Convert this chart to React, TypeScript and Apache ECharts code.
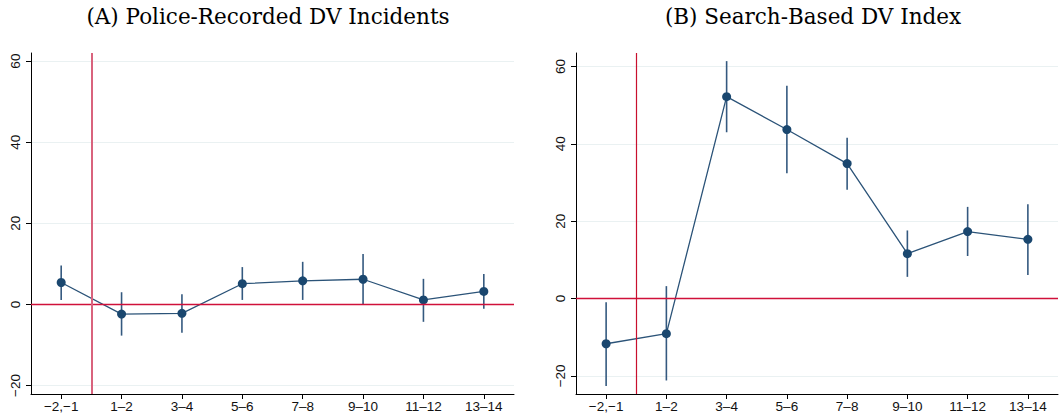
import React, { useEffect, useRef } from "react";
import * as echarts from "echarts";

const categories = ["\u22122,\u22121", "1\u20132", "3\u20134", "5\u20136", "7\u20138", "9\u201310", "11\u201312", "13\u201314"];
const yTicks = [-20, 0, 20, 40, 60];

const policeEst = [5.4, -2.4, -2.2, 5.1, 5.8, 6.2, 1.1, 3.2];
const policeHi = [9.6, 3.0, 2.5, 9.2, 10.5, 12.4, 6.3, 7.5];
const policeLo = [1.1, -7.7, -7.0, 1.1, 1.1, 0.0, -4.3, -1.1];

const searchEst = [-11.7, -9.1, 52.2, 43.7, 34.9, 11.6, 17.3, 15.3];
const searchHi = [-1.0, 3.2, 61.4, 55.0, 41.6, 17.6, 23.7, 24.4];
const searchLo = [-22.6, -21.2, 43.0, 32.4, 28.1, 5.6, 11.0, 6.1];

const NAVY = "#1a476f";
const FONT = "'Liberation Sans', Arial, sans-serif";
const SERIF = "'DejaVu Serif', 'Liberation Serif', serif";

function buildPanel(idx: number, est: number[], lo: number[], hi: number[], vColor: string, vWidth: number) {
  const pts = est.map((v, i) => [i, v]);
  const ci = est.map((_, i) => [i, lo[i], hi[i]]);
  return [
    {
      type: "custom",
      xAxisIndex: idx,
      yAxisIndex: idx,
      data: ci,
      z: 3,
      silent: true,
      renderItem: (params: any, api: any) => {
        const x = api.value(0);
        const p1 = api.coord([x, api.value(1)]);
        const p2 = api.coord([x, api.value(2)]);
        return {
          type: "line",
          shape: { x1: p1[0], y1: p1[1], x2: p2[0], y2: p2[1] },
          style: { stroke: "#34597f", lineWidth: 1.6 },
        };
      },
    },
    {
      type: "line",
      xAxisIndex: idx,
      yAxisIndex: idx,
      data: pts,
      z: 4,
      symbol: "circle",
      symbolSize: 9,
      itemStyle: { color: NAVY },
      lineStyle: { color: "#2b5378", width: 1.3 },
      markLine: {
        silent: true,
        symbol: "none",
        label: { show: false },
        animation: false,
        data: [
          { yAxis: 0, lineStyle: { color: "#d0103a", width: 1.4, type: "solid" } },
          { xAxis: 0.5, lineStyle: { color: vColor, width: vWidth, type: "solid" } },
        ],
      },
    },
  ];
}

function yAxisCfg(idx: number, min: number, max: number) {
  return {
    type: "value",
    gridIndex: idx,
    min,
    max,
    axisLine: { show: true, onZero: false, lineStyle: { color: "#000", width: 1 } },
    axisTick: { show: true, length: 5, lineStyle: { color: "#000" }, customValues: yTicks },
    axisLabel: {
      customValues: yTicks,
      rotate: 90,
      margin: 9,
      fontSize: 13.5,
      color: "#111",
      fontFamily: FONT,
      formatter: (v: number) => (v < 0 ? "\u2212" + Math.abs(v) : String(v)),
    },
    splitLine: { show: true, lineStyle: { color: "#eaf1f2", width: 1 } },
  };
}

function xAxisCfg(idx: number) {
  const vals = categories.map((_, i) => i);
  return {
    type: "value",
    gridIndex: idx,
    min: -0.5,
    max: 7.5,
    axisLine: { show: true, onZero: false, lineStyle: { color: "#000", width: 1 } },
    axisTick: { show: true, length: 5, lineStyle: { color: "#000" }, customValues: vals },
    axisLabel: {
      customValues: vals,
      margin: 5,
      fontSize: 13.5,
      color: "#111",
      fontFamily: FONT,
      formatter: (v: number) => categories[Math.round(v)] ?? "",
    },
    splitLine: { show: false },
  };
}

export default function App() {
  const ref = useRef<HTMLDivElement>(null);
  useEffect(() => {
    if (!ref.current) return;
    const chart = echarts.init(ref.current, undefined, { renderer: "svg" });
    chart.setOption({
      animation: false,
      backgroundColor: "#fff",
      title: [
        {
          text: "(A) Police-Recorded DV Incidents",
          left: 263,
          top: 0,
          textAlign: "center",
          textStyle: { fontFamily: SERIF, fontSize: 21.5, fontWeight: "normal", color: "#000" },
        },
        {
          text: "(B) Search-Based DV Index",
          left: 808,
          top: 0,
          textAlign: "center",
          textStyle: { fontFamily: SERIF, fontSize: 21.5, fontWeight: "normal", color: "#000" },
        },
      ],
      grid: [
        { left: 31, top: 53, width: 483, height: 341 },
        { left: 576, top: 53, width: 482, height: 341 },
      ],
      xAxis: [xAxisCfg(0), xAxisCfg(1)],
      yAxis: [yAxisCfg(0, -22.1, 62), yAxisCfg(1, -24.7, 63.5)],
      series: [
        ...buildPanel(0, policeEst, policeLo, policeHi, "#d9637d", 2),
        ...buildPanel(1, searchEst, searchLo, searchHi, "#c8102e", 1.2),
      ],
    });
    return () => chart.dispose();
  }, []);
  return <div ref={ref} style={{ width: 1061, height: 420, position: "absolute", left: 0, top: 0 }} />;
}
